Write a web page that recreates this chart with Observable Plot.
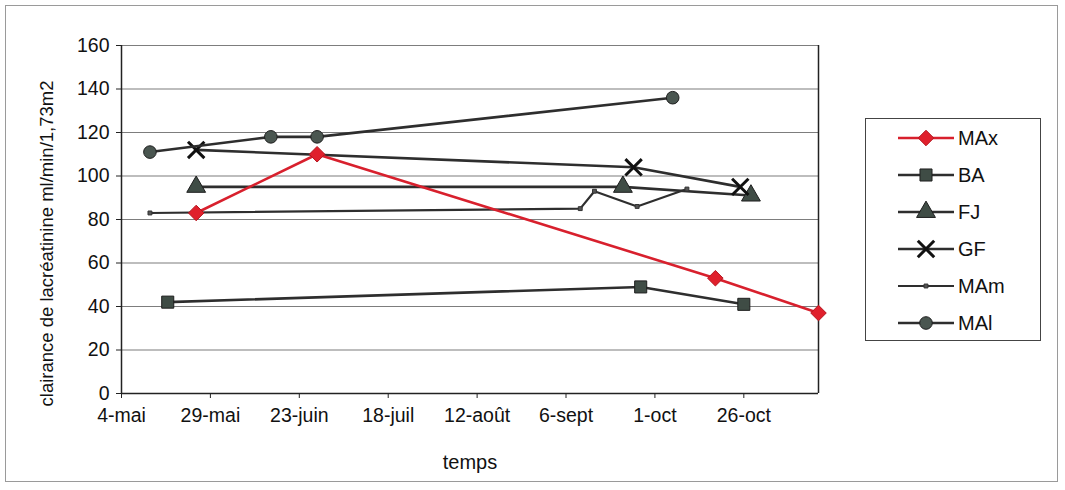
<!DOCTYPE html>
<html><head><meta charset="utf-8">
<script src="https://cdn.jsdelivr.net/npm/d3@7"></script>
<script src="https://cdn.jsdelivr.net/npm/@observablehq/plot@0.6"></script>
<style>
body{margin:0;background:#fff;font-family:"Liberation Sans",Arial,sans-serif;}
#wrap{position:relative;width:1065px;height:490px;overflow:hidden;}
#frame{position:absolute;left:5px;top:5px;width:1051px;height:475px;border:1px solid #9a9a9a;pointer-events:none;}
#legend{position:absolute;left:865px;top:118px;width:174px;height:221px;border:1px solid #444;background:#fff;}
.row{position:absolute;left:0;width:174px;height:26px;}
.row svg{position:absolute;left:32px;top:0;}
.row span{position:absolute;left:92px;top:1px;font-size:20px;color:#111;line-height:24px;}
</style></head><body>
<div id="wrap"><div id="chart"></div><div id="legend"></div><div id="frame"></div></div>
<script>
// ---- data ----
const seriesNames = ["MAx","BA","FJ","GF","MAm","MAl"];
const maxDates = ["2004-05-25","2004-06-28","2004-10-18","2004-11-16"];
const maxValues = [83,110,53,37];
const baDates = ["2004-05-17","2004-09-27","2004-10-26"];
const baValues = [42,49,41];
const fjDates = ["2004-05-25","2004-09-22","2004-10-28"];
const fjValues = [95,95,91];
const gfDates = ["2004-05-25","2004-09-25","2004-10-25"];
const gfValues = [112,104,95];
const mamDates = ["2004-05-12","2004-09-10","2004-09-14","2004-09-26","2004-10-10"];
const mamValues = [83,85,93,86,94];
const malDates = ["2004-05-12","2004-06-15","2004-06-28","2004-10-06"];
const malValues = [111,118,118,136];
const xTickDates = ["2004-05-04","2004-05-29","2004-06-23","2004-07-18","2004-08-12","2004-09-06","2004-10-01","2004-10-26"];
const xTickLabels = ["4-mai","29-mai","23-juin","18-juil","12-août","6-sept","1-oct","26-oct"];
const yTicks = [0,20,40,60,80,100,120,140,160];
const xDomain = ["2004-05-04","2004-11-16"];
const yTitle = "clairance de lacréatinine ml/min/1,73m2";
const xTitle = "temps";

// ---- styles ----
const dark = "#2e2e2e";
const markFill = "#3f4c45";
const style = {
  MAx:{stroke:"#d8202d", sym:d3.symbolDiamond2, r:7, fill:"#e0202c", mstroke:"#b5151f", sw:2.6},
  BA:{stroke:dark, sym:d3.symbolSquare, r:6.8, fill:markFill, mstroke:"#1e1e1e", sw:2.6},
  FJ:{stroke:dark, sym:d3.symbolTriangle, r:7, fill:markFill, mstroke:"#1e1e1e", sw:2.6},
  GF:{stroke:dark, sym:d3.symbolTimes, r:7.5, fill:"none", mstroke:"#111", sw:2.6},
  MAm:{stroke:dark, sym:d3.symbolSquare, r:2.2, fill:"#555", mstroke:"#333", sw:2.2},
  MAl:{stroke:dark, sym:d3.symbolCircle, r:6.3, fill:"#4a5650", mstroke:"#1e1e1e", sw:2.6}
};

const parse = d3.utcParse("%Y-%m-%d");
const table = [];
const src = {MAx:[maxDates,maxValues],BA:[baDates,baValues],FJ:[fjDates,fjValues],GF:[gfDates,gfValues],MAm:[mamDates,mamValues],MAl:[malDates,malValues]};
for (const s of seriesNames) {
  const [ds, vs] = src[s];
  ds.forEach((d,i)=>table.push({series:s, date:parse(d), value:vs[i]}));
}
const order = ["BA","FJ","GF","MAm","MAl","MAx"];
const seriesMarks = [];
for (const s of order) {
  const st = style[s];
  const rows = table.filter(d=>d.series===s);
  seriesMarks.push(Plot.line(rows,{x:"date",y:"value",stroke:st.stroke,strokeWidth:st.sw}));
  seriesMarks.push(Plot.dot(rows,{x:"date",y:"value",symbol:()=>st.sym,r:st.r,fill:st.fill,
    stroke:st.mstroke,strokeWidth:s==="GF"?3:1}));
}

const chart = Plot.plot({
  width:1065, height:490,
  marginLeft:121, marginRight:247, marginTop:45, marginBottom:97,
  style:{fontFamily:'"Liberation Sans", Arial, sans-serif', fontSize:"20px", color:"#111", background:"transparent"},
  x:{type:"utc", domain:xDomain.map(parse)},
  y:{domain:[0,160]},
  symbol:{type:"identity"},
  marks:[
    Plot.gridY(yTicks.filter(d=>d>0),{stroke:"#7d7d7d",strokeOpacity:1,strokeWidth:1.2}),
    Plot.ruleX(xDomain.slice(1).map(parse),{stroke:"#222",strokeWidth:1.5}),
    Plot.axisY(yTicks,{tickSize:5,tickPadding:7,label:null,stroke:"#222",fill:"#111",fontSize:19.5}),
    Plot.axisX(xTickDates.map(parse),{tickSize:5,tickPadding:10,label:null,stroke:"#222",fill:"#111",fontSize:19.5,
      tickFormat:(d)=>xTickLabels[xTickDates.indexOf(d3.utcFormat("%Y-%m-%d")(d))]}),
    Plot.ruleX(xDomain.slice(0,1).map(parse),{stroke:"#222",strokeWidth:1.5}),
    Plot.ruleY([0],{stroke:"#222",strokeWidth:1.5}),
    ...seriesMarks,
    Plot.text([yTitle],{frameAnchor:"left",dx:-74,dy:24,rotate:-90,fontSize:18.5,fill:"#111",textAnchor:"middle",lineAnchor:"middle"}),
    Plot.text([xTitle],{frameAnchor:"bottom",dy:69,fontSize:20,fill:"#111",textAnchor:"middle",lineAnchor:"middle"})
  ]
});
document.getElementById("chart").appendChild(chart);

// ---- legend ----
const legend = d3.select("#legend");
seriesNames.forEach((s,i)=>{
  const st = style[s];
  const row = legend.append("div").attr("class","row").style("top",(6+37*i)+"px");
  const svg = row.append("svg").attr("width",58).attr("height",26);
  svg.append("line").attr("x1",0).attr("x2",56).attr("y1",13).attr("y2",13)
    .attr("stroke",st.stroke).attr("stroke-width",st.sw);
  svg.append("path").attr("transform","translate(28,13)")
    .attr("d",d3.symbol(st.sym, Math.PI*st.r*st.r)())
    .attr("fill",st.fill).attr("stroke",st.mstroke).attr("stroke-width",s==="GF"?3:1);
  row.append("span").text(s);
});
</script>
</body></html>
